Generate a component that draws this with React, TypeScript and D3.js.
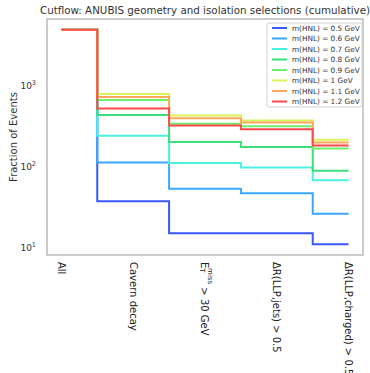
import React, { useEffect, useRef } from "react";
import * as d3 from "d3";

// cut names (x axis)
const cuts = ["All", "Cavern decay", "MET", "ΔR(LLP,jets) > 0.5", "ΔR(LLP,charged) > 0.5"];

// HNL masses and their colours
const masses = ["0.5", "0.6", "0.7", "0.8", "0.9", "1", "1.1", "1.2"];
const colors = ["#3a58ff", "#3aa8ff", "#4cf0e0", "#3ade7a", "#6cf06c", "#dcf25a", "#ffa85a", "#ff4a4a"];

// cumulative event counts per cut
const m05 = [4800, 37, 14.9, 14.9, 10.9];
const m06 = [4800, 111, 52.5, 46.4, 26];
const m07 = [4800, 237, 109, 96.6, 67];
const m08 = [4800, 428, 198, 172, 88];
const m09 = [4800, 655, 332, 310, 165];
const m10 = [4800, 776, 420, 365, 211];
const m11 = [4800, 713, 390, 345, 196];
const m12 = [4800, 515, 317, 286, 180];
const series = [m05, m06, m07, m08, m09, m10, m11, m12];

const yTicks = [10, 100, 1000];

const W = 370, H = 373;
const margin = { top: 19, right: 7, bottom: 118, left: 47 };

export default function App() {
  const ref = useRef<SVGSVGElement>(null);

  useEffect(() => {
    const svg = d3.select(ref.current);
    svg.selectAll("*").remove();
    const font = "DejaVu Sans, sans-serif";

    const x = d3.scaleLinear()
      .domain([-0.2, cuts.length - 1 + 0.2])
      .range([margin.left, W - margin.right]);

    // log axis with 5% margin in log space, like matplotlib
    const all = series.flat();
    const lo = Math.log10(d3.min(all)!), hi = Math.log10(d3.max(all)!);
    const pad = (hi - lo) * 0.05;
    const y = d3.scaleLog()
      .domain([Math.pow(10, lo - pad), Math.pow(10, hi + pad)])
      .range([H - margin.bottom, margin.top]);

    // title
    svg.append("text")
      .attr("x", (margin.left + W - margin.right) / 2)
      .attr("y", 14)
      .attr("text-anchor", "middle")
      .attr("font-family", font)
      .attr("font-size", 10.3)
      .attr("fill", "#333")
      .text("Cutflow: ANUBIS geometry and isolation selections (cumulative)");

    // lines
    const line = d3.line<number>()
      .x((d, i) => x(i))
      .y(d => y(d))
      .curve(d3.curveStep);

    svg.append("g")
      .selectAll("path")
      .data(series)
      .join("path")
      .attr("d", d => line(d))
      .attr("fill", "none")
      .attr("stroke", (d, i) => colors[i])
      .attr("stroke-width", 2);

    // frame
    svg.append("rect")
      .attr("x", margin.left)
      .attr("y", margin.top)
      .attr("width", W - margin.right - margin.left)
      .attr("height", H - margin.bottom - margin.top)
      .attr("fill", "none")
      .attr("stroke", "#aaa")
      .attr("stroke-width", 1.2);

    // y tick labels 10^n
    const yt = svg.append("g")
      .selectAll("text")
      .data(yTicks)
      .join("text")
      .attr("x", margin.left - 11)
      .attr("y", d => y(d) + 3.5)
      .attr("text-anchor", "end")
      .attr("font-family", font)
      .attr("font-size", 9)
      .attr("fill", "#333");
    yt.append("tspan").text("10");
    yt.append("tspan")
      .attr("font-size", 6.5)
      .attr("dy", -4)
      .text(d => String(Math.round(Math.log10(d))));

    // y label
    svg.append("text")
      .attr("transform", `translate(17,${(margin.top + H - margin.bottom) / 2}) rotate(-90)`)
      .attr("text-anchor", "middle")
      .attr("font-family", font)
      .attr("font-size", 10)
      .attr("fill", "#333")
      .text("Fraction of Events");

    // x tick labels, rotated to read downwards
    const xl = svg.append("g")
      .selectAll("text")
      .data(cuts)
      .join("text")
      .attr("transform", (d, i) => `translate(${x(i)},${H - margin.bottom + 7}) rotate(90)`)
      .attr("dominant-baseline", "central")
      .attr("font-family", font)
      .attr("font-size", 10)
      .attr("fill", "#222");
    xl.each(function (d) {
      const t = d3.select(this);
      if (d === "MET") {
        t.append("tspan").text("E");
        t.append("tspan").attr("font-size", 7).attr("dy", 3).text("T");
        t.append("tspan").attr("font-size", 7).attr("dx", -4.5).attr("dy", -8).text("miss");
        t.append("tspan").attr("dy", 5).text("  > 30 GeV");
      } else {
        t.text(d);
      }
    });

    // legend
    const lg = svg.append("g").attr("transform", "translate(267,23)");
    lg.append("rect")
      .attr("width", 95)
      .attr("height", 84)
      .attr("rx", 2)
      .attr("fill", "white")
      .attr("fill-opacity", 0.85)
      .attr("stroke", "#d0d0d0");
    const row = lg.selectAll("g.row")
      .data(masses)
      .join("g")
      .attr("class", "row")
      .attr("transform", (d, i) => `translate(0,${5 + i * 10.5})`);
    row.append("line")
      .attr("x1", 5).attr("x2", 20)
      .attr("stroke", (d, i) => colors[i])
      .attr("stroke-width", 2);
    row.append("text")
      .attr("x", 25)
      .attr("y", 2.7)
      .attr("font-family", font)
      .attr("font-size", 7.3)
      .attr("fill", "#333")
      .text(d => `m(HNL) = ${d} GeV`);
  }, []);

  return <svg ref={ref} width={W} height={H} style={{ display: "block", position: "absolute", left: 0, top: 0 }} />;
}
